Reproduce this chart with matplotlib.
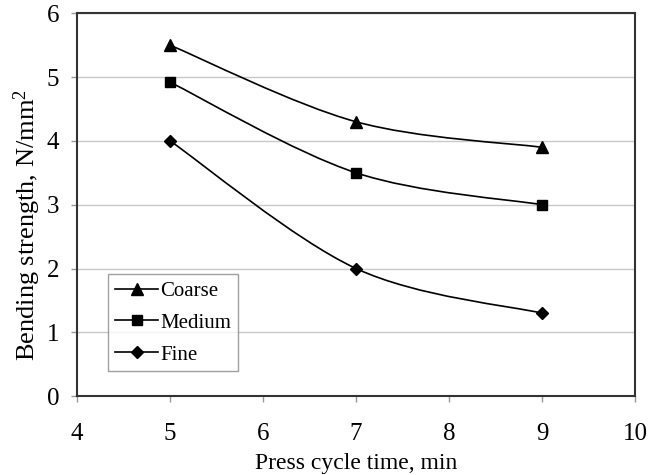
import matplotlib
matplotlib.use('Agg')
import matplotlib.pyplot as plt
from matplotlib.path import Path
from matplotlib.patches import PathPatch
from matplotlib.lines import Line2D

# 数据
press_time = [5, 7, 9]
coarse = [5.5, 4.3, 3.9]
medium = [4.92, 3.5, 3.0]
fine = [4.0, 2.0, 1.3]

series = [
    ('Coarse', coarse, '^', 8),
    ('Medium', medium, 's', 7),
    ('Fine', fine, 'D', 6),
]

plt.rcParams['font.family'] = ['Liberation Serif', 'DejaVu Serif']
plt.rcParams['mathtext.default'] = 'regular'


def smooth_path(xs, ys):
    """Excel 风格平滑曲线 (Catmull-Rom -> Bezier)"""
    pts = list(zip(xs, ys))
    verts = [pts[0]]
    codes = [Path.MOVETO]
    n = len(pts)
    for i in range(n - 1):
        p0 = pts[i - 1] if i > 0 else pts[i]
        p1 = pts[i]
        p2 = pts[i + 1]
        p3 = pts[i + 2] if i + 2 < n else pts[i + 1]
        c1 = (p1[0] + (p2[0] - p0[0]) / 6, p1[1] + (p2[1] - p0[1]) / 6)
        c2 = (p2[0] - (p3[0] - p1[0]) / 6, p2[1] - (p3[1] - p1[1]) / 6)
        verts += [c1, c2, p2]
        codes += [Path.CURVE4] * 3
    return Path(verts, codes)


fig = plt.figure(figsize=(6.48, 4.75), dpi=100)
ax = fig.add_axes([0.119, 0.166, 0.861, 0.806])

handles = []
for name, vals, marker, ms in series:
    patch = PathPatch(smooth_path(press_time, vals), facecolor='none',
                      edgecolor='black', linewidth=1.2, zorder=3)
    ax.add_patch(patch)
    ax.plot(press_time, vals, linestyle='none', marker=marker, markersize=ms,
            color='black', zorder=4)
    handles.append(Line2D([], [], color='black', linewidth=1.2,
                          marker=marker, markersize=ms, label=name))

ax.set_xlim(4, 10)
ax.set_ylim(0, 6)
ax.set_xticks(range(4, 11))
ax.set_yticks(range(0, 7))

ax.grid(True, axis='y', color='#c8c8c8', linewidth=1)
ax.set_axisbelow(True)

for sp in ax.spines.values():
    sp.set_color('#333333')
    sp.set_linewidth(1.5)

ax.tick_params(axis='x', direction='out', length=4, width=1, color='#999999',
               labelsize=18, pad=15)
ax.tick_params(axis='y', direction='out', length=4, width=1, color='#999999',
               labelsize=18, pad=9)

ax.set_xlabel('Press cycle time, min', fontsize=17, labelpad=6)
ax.set_ylabel('Bending strength, N/mm$^2$', fontsize=19)
ax.yaxis.set_label_coords(-0.062, 0.446)

leg = ax.legend(handles=handles, loc='upper left', bbox_to_anchor=(0.055, 0.318),
                prop={'family': 'Liberation Serif', 'size': 15},
                frameon=True, fancybox=False, handlelength=2.1,
                borderpad=0.33, labelspacing=0.59, handletextpad=0.1,
                borderaxespad=0)
leg.get_frame().set_edgecolor('#888888')
leg.get_frame().set_linewidth(1.0)

plt.savefig('out.png', dpi=100)
plt.close()
